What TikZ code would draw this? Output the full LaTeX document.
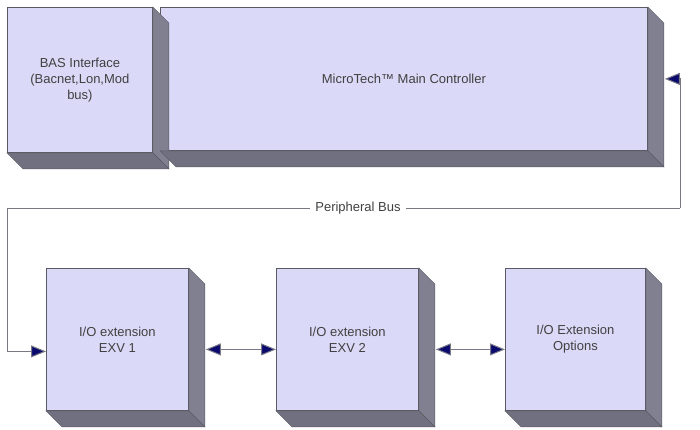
\documentclass[tikz,border=0pt]{standalone}
\usepackage{fontspec}
\setmainfont{Liberation Sans}
\usepackage{xcolor}
\usetikzlibrary{arrows.meta,positioning,calc}
\definecolor{faceblue}{RGB}{218, 218, 248}
\definecolor{sidegray}{RGB}{128, 128, 145}
\definecolor{bottomgray}{RGB}{112, 112, 128}
\definecolor{edgegray}{RGB}{90, 90, 100}
\definecolor{tipnavy}{RGB}{10, 10, 110}
\definecolor{busgray}{RGB}{120, 120, 135}

\begin{document}
\begin{tikzpicture}[x=1pt, y=-1pt,
    box/.style={rectangle, draw=edgegray, fill=faceblue, line width=0.8pt, align=center, font=\fontsize{13}{16}\selectfont, text=black!75, inner sep=0pt},
    bus/.style={draw=busgray, line width=1pt},
    arrow/.style={bus, -{Triangle[length=15pt, width=12pt, fill=tipnavy]}},
    darrow/.style={bus, {Triangle[length=15pt, width=12pt, fill=tipnavy]}-{Triangle[length=15pt, width=12pt, fill=tipnavy]}}
]
\useasboundingbox (0,0) rectangle (700,429);

% blocks
\node[box, minimum width=145pt, minimum height=145pt, anchor=north west] (bas) at (7,7) {BAS Interface\\(Bacnet,Lon,Mod\\bus)};
\node[box, minimum width=487pt, minimum height=143pt, anchor=north west] (main) at (160,7) {MicroTech™ Main Controller};
\node[box, minimum width=142pt, minimum height=142pt, anchor=north west] (exv1) at (46,268) {I/O extension\\EXV 1};
\node[box, minimum width=142pt, minimum height=142pt, anchor=north west] (exv2) at (276,268) {I/O extension\\EXV 2};
\node[box, minimum width=140pt, minimum height=142pt, anchor=north west] (opts) at (505,268) {I/O Extension\\Options};

% 3D sides
\foreach \n in {bas,main,exv1,exv2,opts} {
  \fill[sidegray, draw=edgegray] (\n.north east) -- ++(16,16) -- ($(\n.south east)+(16,16)$) -- (\n.south east) -- cycle;
  \fill[bottomgray, draw=edgegray] (\n.south west) -- ++(16,16) -- ($(\n.south east)+(16,16)$) -- (\n.south east) -- cycle;
}

% peripheral bus
\coordinate (busleft) at (7,208);
\coordinate (busright) at (680,208);
\node[fill=white, font=\fontsize{13}{16}\selectfont, text=black!75, inner sep=5pt] (buslabel) at (358,208) {Peripheral Bus};
\draw[bus] (buslabel.west) -- (busleft);
\draw[bus] (buslabel.east) -- (busright);
\draw[arrow] (busright) |- ($(main.south east)!0.5!(main.north east)+(17,0)$);
\draw[arrow] (busleft) |- ($(exv1.west)+(0,12)$);
\draw[darrow] ($(exv1.east)+(17,10)$) -- ($(exv2.west)+(0,10)$);
\draw[darrow] ($(exv2.east)+(17,10)$) -- ($(opts.west)+(0,10)$);

\end{tikzpicture}
\end{document}
